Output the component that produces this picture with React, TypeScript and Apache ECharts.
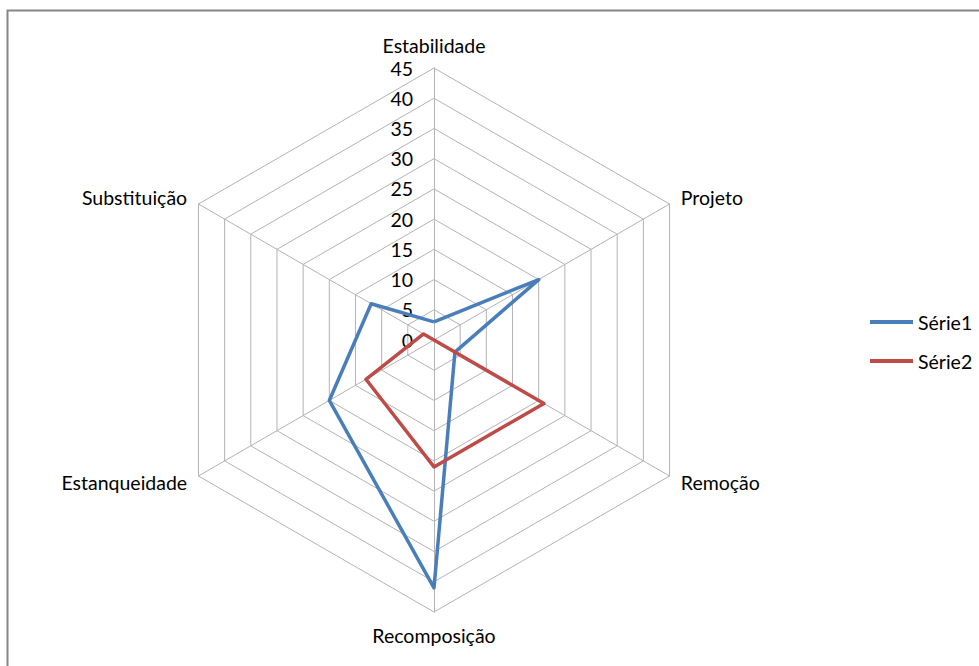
import React, { useEffect, useRef } from "react";
import * as echarts from "echarts";

const categories = ["Estabilidade", "Projeto", "Remoção", "Recomposição", "Estanqueidade", "Substituição"];
const serie1 = [3, 20, 4, 41, 20, 12];
const serie2 = [0, 0, 21, 21, 13, 2];
const seriesNames = ["Série1", "Série2"];
const tickMax = 45;
const tickStep = 5;

const FONT = "Lato, 'Noto Sans', sans-serif";
const FS = 19.5;

export default function App() {
  const ref = useRef<HTMLDivElement>(null);
  useEffect(() => {
    if (!ref.current) return;
    const chart = echarts.init(ref.current, null, { renderer: "svg" });
    // ECharts lays indicators counter-clockwise; reorder so display is clockwise like Excel
    const order = [0, 5, 4, 3, 2, 1];
    const cx = 434, cy = 340, r = 272;
    chart.setOption({
      animation: false,
      backgroundColor: "#fff",
      graphic: [
        {
          type: "rect",
          shape: { x: 7.5, y: 10.5, width: 980, height: 700 },
          style: { fill: "none", stroke: "#868686", lineWidth: 2 },
          silent: true,
        },
      ],
      legend: {
        data: seriesNames,
        orient: "vertical",
        left: 870,
        top: 312,
        itemWidth: 43,
        itemHeight: 4,
        itemGap: 19,
        icon: "rect",
        padding: 0,
        textStyle: { fontFamily: FONT, fontSize: FS, color: "#000" },
      },
      grid: { left: cx, top: cy - r, width: 1, height: r, containLabel: false },
      xAxis: { type: "value", show: false },
      yAxis: {
        type: "value",
        min: 0,
        max: tickMax,
        interval: tickStep,
        axisLine: { show: false },
        axisTick: { show: false },
        splitLine: { show: false },
        axisLabel: { margin: 21, fontFamily: FONT, fontSize: FS, color: "#000" },
      },
      radar: {
        center: [cx, cy],
        radius: r,
        startAngle: 90,
        shape: "polygon",
        splitNumber: tickMax / tickStep,
        nameGap: 13,
        indicator: order.map((i) => ({ name: categories[i], min: 0, max: tickMax })),
        axisName: { color: "#000", fontFamily: FONT, fontSize: FS },
        axisLine: { lineStyle: { color: "#b3b3b3", width: 1 } },
        splitLine: { lineStyle: { color: "#b3b3b3", width: 1 } },
        splitArea: { show: false },
        axisLabel: { show: false },
      },
      series: [
        {
          type: "radar",
          symbol: "none",
          data: [
            {
              name: seriesNames[0],
              value: order.map((i) => serie1[i]),
              lineStyle: { color: "#4a7ebb", width: 3.5 },
              itemStyle: { color: "#4a7ebb" },
            },
            {
              name: seriesNames[1],
              value: order.map((i) => serie2[i]),
              lineStyle: { color: "#be4b48", width: 3.5 },
              itemStyle: { color: "#be4b48" },
            },
          ],
        },
      ],
    });
    return () => chart.dispose();
  }, []);
  return (
    <div
      ref={ref}
      style={{ position: "fixed", left: 0, top: 0, width: 979, height: 666, background: "#fff" }}
    />
  );
}
